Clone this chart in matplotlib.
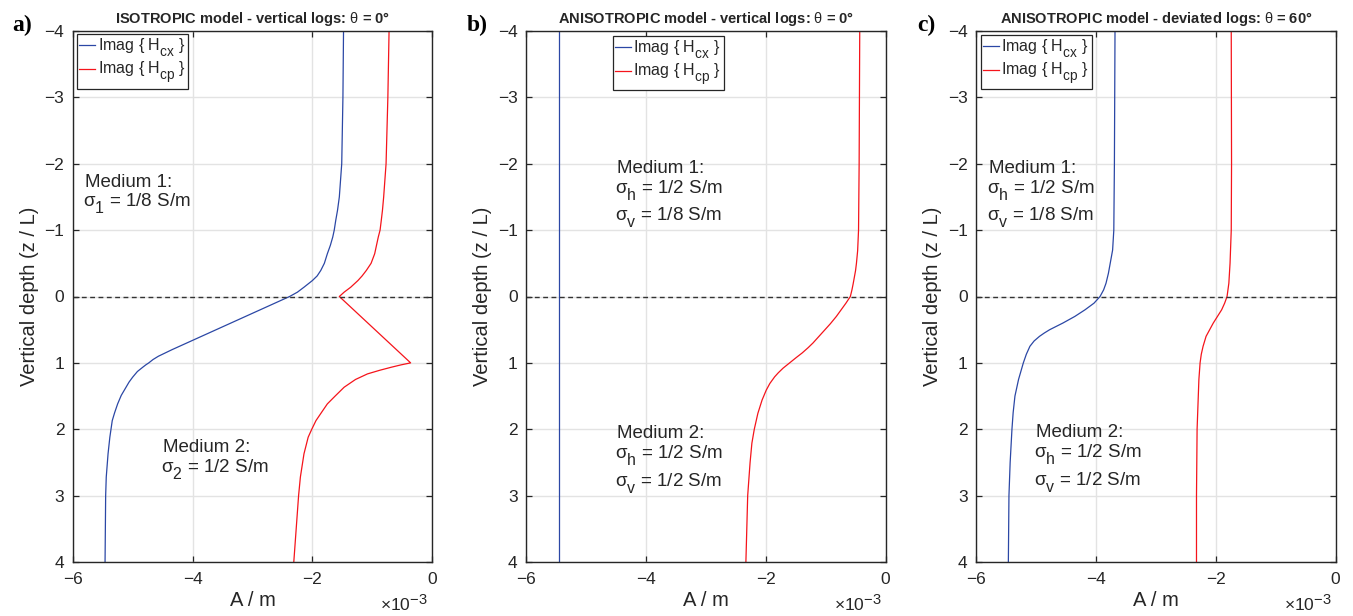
import matplotlib
matplotlib.use("Agg")
import matplotlib.pyplot as plt

try:
    import matplotlib._mathtext as _mt
    _mt.SHRINK_FACTOR = 0.85
    _mt.FontConstantsBase.sub1 = 0.75
    _mt.FontConstantsBase.subdrop = 0.5
except Exception:
    pass

plt.rcParams['font.family'] = ['Liberation Sans', 'DejaVu Sans']
plt.rcParams['mathtext.fontset'] = 'custom'
plt.rcParams['mathtext.rm'] = 'Liberation Sans'
plt.rcParams['mathtext.it'] = 'Liberation Sans'
plt.rcParams['mathtext.bf'] = 'Liberation Sans:bold'

# ---------------- data (values in units of 1e-3 A/m) ----------------
# Panel a: isotropic, vertical logs
a_cx_depth = [-4, -3, -2, -1.75, -1.5, -1.3, -1.146, -1.0, -0.895, -0.77, -0.644, -0.5,
              -0.392, -0.31, -0.24, -0.14, -0.065, 0.0, 0.2, 0.4, 0.6, 0.8, 0.9, 0.95,
              1.0, 1.03, 1.065, 1.13, 1.216, 1.29, 1.367, 1.49, 1.618, 1.75, 1.87, 2.12,
              2.37, 2.72, 3.0, 4.0]
a_cx_val = [-1.48, -1.49, -1.51, -1.53, -1.55, -1.58, -1.61, -1.635, -1.66, -1.70, -1.75,
            -1.80, -1.86, -1.92, -2.00, -2.14, -2.25, -2.38, -2.87, -3.36, -3.85, -4.34,
            -4.57, -4.66, -4.73, -4.78, -4.83, -4.92, -5.00, -5.06, -5.11, -5.19, -5.25,
            -5.30, -5.34, -5.38, -5.41, -5.44, -5.45, -5.46]
a_cp_depth = [-4, -3, -2, -1.75, -1.5, -1.3, -1.146, -1.0, -0.895, -0.77, -0.644, -0.5,
              -0.392, -0.31, -0.24, -0.14, -0.065, 0.0, 1.0, 1.03, 1.065, 1.11, 1.166,
              1.25, 1.367, 1.5, 1.618, 1.75, 1.87, 2.0, 2.12, 2.37, 2.72, 3.0, 3.5, 4.0]
a_cp_val = [-0.72, -0.74, -0.77, -0.79, -0.81, -0.83, -0.85, -0.87, -0.90, -0.93, -0.96,
            -1.02, -1.10, -1.17, -1.24, -1.36, -1.47, -1.55, -0.36, -0.52, -0.68, -0.87,
            -1.08, -1.28, -1.47, -1.62, -1.75, -1.85, -1.94, -2.01, -2.07, -2.14, -2.20,
            -2.23, -2.27, -2.31]

# Panel b: anisotropic, vertical logs
b_cx_depth = [-4, 4]
b_cx_val = [-5.455, -5.455]
b_cp_depth = [-4, -3, -2, -1, -0.69, -0.5, -0.39, -0.19, -0.1, 0.0, 0.1, 0.2, 0.3, 0.41,
              0.5, 0.6, 0.7, 0.77, 0.85, 0.92, 1.0, 1.08, 1.15, 1.21, 1.31, 1.41, 1.56,
              1.76, 2.0, 2.21, 2.5, 3.0, 3.5, 4.0]
b_cp_val = [-0.43, -0.435, -0.44, -0.45, -0.465, -0.485, -0.50, -0.54, -0.56, -0.587,
            -0.66, -0.74, -0.82, -0.92, -1.01, -1.11, -1.21, -1.29, -1.39, -1.49, -1.60,
            -1.71, -1.79, -1.85, -1.93, -1.99, -2.06, -2.13, -2.19, -2.23, -2.26, -2.30,
            -2.315, -2.33]

# Panel c: anisotropic, deviated logs (60 deg)
c_cx_depth = [-4, -2, -1, -0.7, -0.5, -0.35, -0.2, -0.1, 0.0, 0.1, 0.2, 0.3, 0.4, 0.45,
              0.5, 0.55, 0.6, 0.67, 0.75, 0.87, 1.0, 1.25, 1.5, 1.75, 2.0, 2.5, 3.0, 4.0]
c_cx_val = [-3.68, -3.69, -3.70, -3.72, -3.76, -3.79, -3.83, -3.87, -3.93, -4.03, -4.18,
            -4.35, -4.55, -4.66, -4.77, -4.86, -4.94, -5.03, -5.10, -5.16, -5.21, -5.29,
            -5.35, -5.38, -5.40, -5.43, -5.45, -5.46]
c_cp_depth = [-4, -2, -1, -0.5, -0.2, 0.0, 0.1, 0.2, 0.3, 0.4, 0.5, 0.6, 0.75, 0.87, 1.0,
              1.25, 1.5, 2.0, 3.0, 4.0]
c_cp_val = [-1.74, -1.735, -1.74, -1.76, -1.78, -1.81, -1.85, -1.90, -1.97, -2.04, -2.10,
            -2.16, -2.21, -2.24, -2.26, -2.28, -2.29, -2.31, -2.32, -2.32]

titles = [r"ISOTROPIC model - vertical logs: $\theta$ = 0°",
          r"ANISOTROPIC model - vertical logs: $\theta$ = 0°",
          r"ANISOTROPIC model - deviated logs: $\theta$ = 60°"]
panel_labels = ["a)", "b)", "c)"]
legend_labels = [r"Imag { H$_{\mathregular{cx}}$ }", r"Imag { H$_{\mathregular{cp}}$ }"]
x_ticks = [-6, -4, -2, 0]
y_ticks = [-4, -3, -2, -1, 0, 1, 2, 3, 4]

BLUE = '#2b47a5'
RED = '#f5141b'

W, H = 1353, 616
fig = plt.figure(figsize=(W / 100, H / 100), dpi=100)

ax_left_px = [72.7, 526.0, 976.0]
ax_w_px = 359.5
ax_top_px, ax_bot_px = 31.0, 562.0

curves = [((a_cx_val, a_cx_depth), (a_cp_val, a_cp_depth)),
          ((b_cx_val, b_cx_depth), (b_cp_val, b_cp_depth)),
          ((c_cx_val, c_cx_depth), (c_cp_val, c_cp_depth))]

legend_anchor = [(0.012, 0.994), (0.241, 0.991), (0.013, 0.993)]

annotations = [
    [(-5.79, -1.65, "Medium 1:"), (-5.82, -1.35, r"$\sigma_{\mathregular{1}}$ = 1/8 S/m"),
     (-4.50, 2.35, "Medium 2:"), (-4.53, 2.65, r"$\sigma_{\mathregular{2}}$ = 1/2 S/m")],
    [(-4.48, -1.855, "Medium 1:"), (-4.51, -1.554, r"$\sigma_{\mathregular{h}}$ = 1/2 S/m"),
     (-4.51, -1.14, r"$\sigma_{\mathregular{v}}$ = 1/8 S/m"),
     (-4.48, 2.135, "Medium 2:"), (-4.51, 2.437, r"$\sigma_{\mathregular{h}}$ = 1/2 S/m"),
     (-4.51, 2.864, r"$\sigma_{\mathregular{v}}$ = 1/2 S/m")],
    [(-5.79, -1.855, "Medium 1:"), (-5.82, -1.554, r"$\sigma_{\mathregular{h}}$ = 1/2 S/m"),
     (-5.82, -1.14, r"$\sigma_{\mathregular{v}}$ = 1/8 S/m"),
     (-5.00, 2.12, "Medium 2:"), (-5.03, 2.42, r"$\sigma_{\mathregular{h}}$ = 1/2 S/m"),
     (-5.03, 2.84, r"$\sigma_{\mathregular{v}}$ = 1/2 S/m")],
]

label_x_px = [12, 467, 917]

for i in range(3):
    ax = fig.add_axes([ax_left_px[i] / W, 1 - ax_bot_px / H, ax_w_px / W,
                       (ax_bot_px - ax_top_px) / H])
    (cx, cxd), (cp, cpd) = curves[i]
    ax.plot(cx, cxd, color=BLUE, lw=0.9, label=legend_labels[0])
    ax.plot(cp, cpd, color=RED, lw=0.9, label=legend_labels[1])
    ax.axhline(0, color='#333333', lw=1.0, ls=(0, (3.5, 2.5)))
    ax.set_xlim(-6, 0)
    ax.set_ylim(4, -4)
    ax.set_xticks(x_ticks)
    ax.set_yticks(y_ticks)
    ax.grid(True, color='#e3e3e3', lw=1.0)
    ax.set_axisbelow(True)
    ax.tick_params(direction='in', top=True, right=True, length=4, width=0.9,
                   color='#262626', labelsize=12.5, labelcolor='#262626')
    ax.tick_params(axis='x', pad=7)
    ax.tick_params(axis='y', pad=6)
    for sp in ax.spines.values():
        sp.set_color('#262626')
        sp.set_linewidth(1.0)
    ax.set_xlabel("A / m", fontsize=14.5, color='#262626', labelpad=3)
    ax.set_ylabel("Vertical depth (z / L)", fontsize=14.5, color='#262626', labelpad=4)
    ax.set_title(titles[i], fontsize=10.5, fontweight='bold', color='#262626', pad=6)
    leg = ax.legend(loc='upper left', bbox_to_anchor=legend_anchor[i], borderaxespad=0,
                    fontsize=11.5, handlelength=1.0, handletextpad=0.15,
                    labelspacing=0.05, borderpad=0.15, fancybox=False, framealpha=1)
    leg.get_frame().set_edgecolor('#262626')
    leg.get_frame().set_linewidth(0.9)
    for t in leg.get_texts():
        t.set_color('#262626')
    for (x, y, s) in annotations[i]:
        ax.text(x, y, s, fontsize=13.5, color='#262626', va='baseline', ha='left')
    ax.text(0.989, -(611 - ax_bot_px) / (ax_bot_px - ax_top_px), r"$\times$10$^{\mathregular{-3}}$",
            transform=ax.transAxes, fontsize=12.5, color='#262626', ha='right', va='baseline')
    fig.text(label_x_px[i] / W, 1 - 31 / H, panel_labels[i], family='Liberation Serif',
             fontweight='bold', fontsize=17, va='baseline', ha='left')

fig.savefig("out.png", dpi=100)
